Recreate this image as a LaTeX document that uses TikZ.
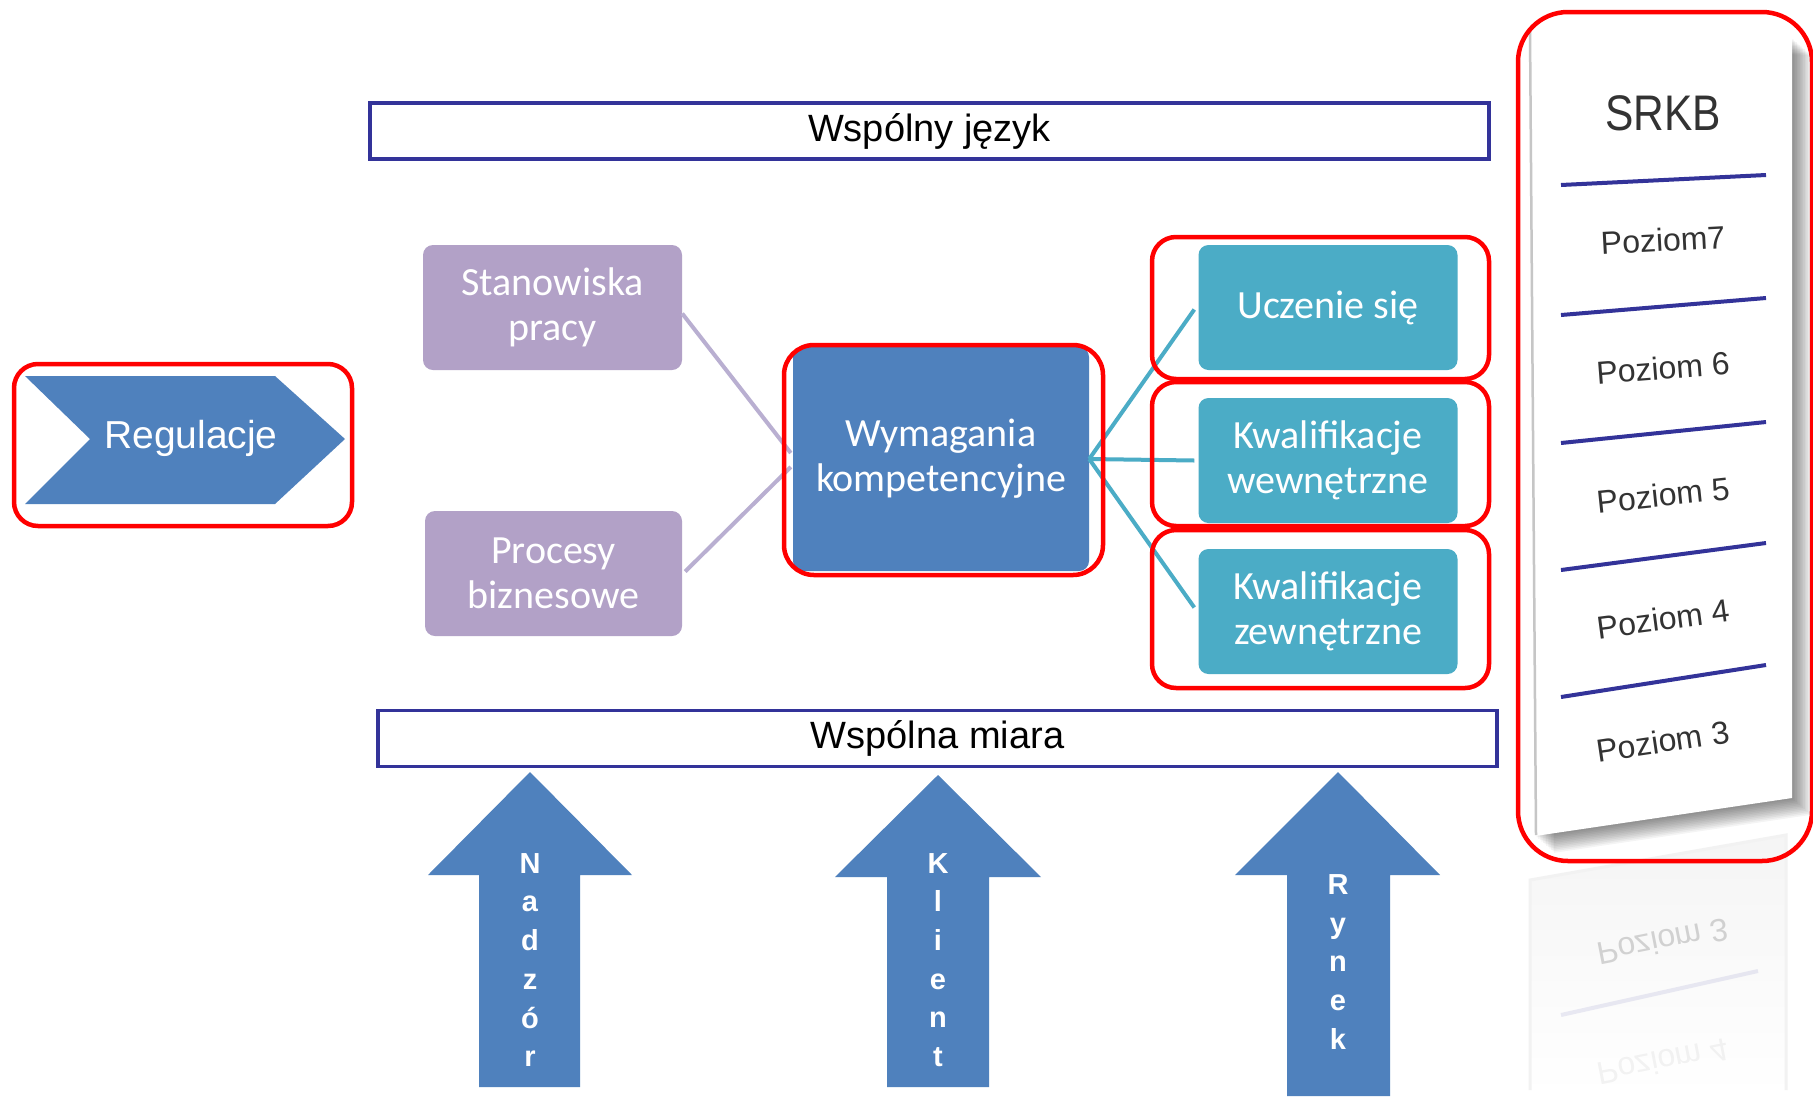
\documentclass[tikz,border=0pt]{standalone}
\usepackage{fontspec}
\setmainfont{Liberation Sans}
\newfontfamily\calib{Carlito}
\usetikzlibrary{calc}
\definecolor{obl}{HTML}{4F81BD}
\definecolor{lav}{HTML}{B2A1C7}
\definecolor{lavline}{HTML}{B9AFD1}
\definecolor{tealbox}{HTML}{4BACC6}
\definecolor{navyb}{HTML}{333399}
\definecolor{cardtxt}{HTML}{333333}
\tikzset{
  pbox/.style={rounded corners=10pt, fill=lav, minimum width=259pt, minimum height=125pt,
    text=white, font=\calib\fontsize{40}{45}\selectfont, align=center, inner sep=0pt},
  tbox/.style={pbox, fill=tealbox},
  wbox/.style={draw=navyb, line width=3.5pt, fill=white, minimum width=1119pt, minimum height=56pt,
    font=\fontsize{38}{42}\selectfont, inner sep=0pt},
  redframe/.style={draw=red, line width=4.5pt, rounded corners=24pt, inner sep=0pt},
  pline/.style={draw=lavline, line width=4pt},
  tline/.style={draw=tealbox, line width=4pt},
  bigarrow/.style={fill=obl},
  arrtext/.style={text=white, font=\bfseries\fontsize{29}{38.7}\selectfont, align=center, inner sep=0pt},
  lvl/.style={text=cardtxt, font=\fontsize{32}{36}\selectfont, inner sep=0pt},
  lvlline/.style={draw=navyb, line width=4pt},
}
\begin{document}
\begin{tikzpicture}[x=1pt,y=-1pt]
\useasboundingbox (0,0) rectangle (1813,1096);
\fill[white] (0,0) rectangle (1813,1096);

% ---- SRKB card reflection
\shade[top color=gray!8, bottom color=white] (1530,880) -- (1786,835) -- (1786,1096) -- (1530,1096) -- cycle;
\draw[gray!10, line width=3pt] (1530,1090) -- (1530,880) -- (1786,835) -- (1786,1090);
\begin{scope}[opacity=0.2]
  \node[lvl, rotate=11, yscale=-1] (r3) at (1663,942) {Poziom 3};
  \draw[lvlline, draw=navyb!50] (1561,1015) -- (1758,971);
\end{scope}
\node[lvl, rotate=11, yscale=-1, opacity=0.06] (r4) at (1663,1062) {Poziom 4};

% ---- SRKB card shadow and card
\foreach \k in {1,...,12}{
  \fill[black,opacity=0.045,shift={(\k*1.6,\k*1.4)}] (1529,30) -- (1792,38) -- (1792,798) -- (1535,836) -- cycle;
}
\fill[white] (1529,30) -- (1792,38) -- (1792,798) -- (1535,836) -- cycle;
\draw[gray!45, line width=2.5pt] (1530,31) -- (1536,835);

\node[text=cardtxt, font=\fontsize{50}{54}\selectfont, xscale=0.85, inner sep=0pt] (srkb) at (1663,113) {SRKB};
\draw[lvlline] (1561,185) -- (1766,175);
\node[lvl, rotate=3] (p7) at (1663,240) {Poziom7};
\draw[lvlline] (1561,315) -- (1766,298);
\node[lvl, rotate=4.5] (p6) at (1663,368) {Poziom 6};
\draw[lvlline] (1561,443) -- (1766,422);
\node[lvl, rotate=6] (p5) at (1663,495) {Poziom 5};
\draw[lvlline] (1561,570) -- (1766,543);
\node[lvl, rotate=7.5] (p4) at (1663,619) {Poziom 4};
\draw[lvlline] (1561,697) -- (1766,665);
\node[lvl, rotate=8.5] (p3) at (1663,741) {Poziom 3};

% ---- bars
\node[wbox] (wj) at (929.5,131) {Wspólny język};
\node[wbox] (wm) at (937.5,738.5) {Wspólna miara};

% ---- boxes
\node[pbox] (stan) at (552.5,307.5) {Stanowiska\\pracy};
\node[pbox, minimum width=257pt] (proc) at (553.5,573.5) {Procesy\\biznesowe};
\node[pbox, fill=obl, minimum width=296pt, minimum height=224pt] (wym) at (941,459) {Wymagania\\kompetencyjne};
\node[tbox] (ucz) at (1328,307.5) {Uczenie się};
\node[tbox] (kww) at (1328,460.5) {Kwalifikacje\\wewnętrzne};
\node[tbox] (kwz) at (1328,611.5) {Kwalifikacje\\zewnętrzne};

% ---- connectors
\draw[pline] ($(stan.east)+(0,6)$) -- ($(wym.west)+(-2,-6)$);
\draw[pline] ($(proc.east)+(3,-2)$) -- ($(wym.west)+(-2,8)$);
\draw[tline] (wym.east) -- ($(ucz.west)+(-4,2)$);
\draw[tline] (wym.east) -- ($(kww.west)+(-4,0)$);
\draw[tline] (wym.east) -- ($(kwz.west)+(-4,-4)$);

% ---- Regulacje chevron
\fill[obl] (25,376) -- (275,376) -- (345,439) -- (275,504) -- (25,504) -- (90,439) -- cycle;
\node[text=white, font=\fontsize{39}{42}\selectfont, inner sep=0pt] (reg) at (191,438) {Regulacje};

% ---- block arrows
\fill[bigarrow] (530,772) -- (632,875) -- (580,875) -- (580,1087) -- (479,1087) -- (479,875) -- (428,875) -- cycle;
\node[arrtext] (nad) at (530,960) {N\\a\\d\\z\\ó\\r};
\fill[bigarrow] (938,775) -- (1041,877) -- (989,877) -- (989,1087) -- (887,1087) -- (887,877) -- (835,877) -- cycle;
\node[arrtext] (kli) at (938,960) {K\\l\\i\\e\\n\\t};
\fill[bigarrow] (1338,772) -- (1440,875) -- (1390,875) -- (1390,1096) -- (1287,1096) -- (1287,875) -- (1235,875) -- cycle;
\node[arrtext] (ryn) at (1338,962) {R\\y\\n\\e\\k};

% ---- red frames
\node[redframe, minimum width=338pt, minimum height=162pt] (fr1) at (183,445) {};
\node[redframe, minimum width=319pt, minimum height=230pt, rounded corners=30pt] (fr2) at (943.5,460) {};
\node[redframe, minimum width=337pt, minimum height=142pt] (fr3) at (1320.5,308) {};
\node[redframe, minimum width=337pt, minimum height=144pt] (fr4) at (1320.5,454) {};
\node[redframe, minimum width=337pt, minimum height=158pt] (fr5) at (1320.5,609) {};
\node[redframe, minimum width=294pt, minimum height=849pt, rounded corners=50pt] (fr6) at (1665,436.5) {};
\end{tikzpicture}
\end{document}
